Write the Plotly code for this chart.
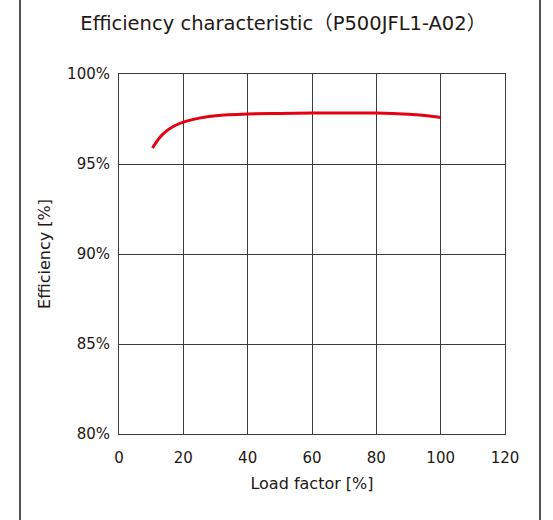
import plotly.graph_objects as go

title_text = "Efficiency characteristic（P500JFL1-A02）"
x_title = "Load factor [%]"
y_title = "Efficiency [%]"

load = [10.4, 12.8, 15, 17, 20, 25, 30, 40, 50, 60, 70, 80, 90, 95, 100]
eff = [95.89, 96.5, 96.87, 97.1, 97.33, 97.55, 97.68, 97.78, 97.81, 97.83, 97.83, 97.83, 97.76, 97.69, 97.58]

x_ticks = [0, 20, 40, 60, 80, 100, 120]
y_ticks = [80, 85, 90, 95, 100]
y_labels = ["80%", "85%", "90%", "95%", "100%"]

FONT = "DejaVu Sans, Noto Sans CJK JP"
TXT = "#231815"
GRID = "#3e3a39"

fig = go.Figure()
fig.add_trace(go.Scatter(
    x=load, y=eff, mode="lines",
    line=dict(color="#e60012", width=3, shape="spline", smoothing=1.0),
    hoverinfo="skip", showlegend=False,
))

fig.update_layout(
    width=553, height=520,
    margin=dict(l=119, r=48, t=74, b=86),
    paper_bgcolor="white", plot_bgcolor="white",
    font=dict(family=FONT, color=TXT, size=15),
    title=dict(text=title_text, x=0.4255, xanchor="center", y=0.956, yanchor="middle",
               xref="paper",
               font=dict(family=FONT, size=19.5, color=TXT)),
    xaxis=dict(range=[0, 120], tickvals=x_ticks, showgrid=True, gridcolor=GRID, gridwidth=1,
               showline=True, linecolor=GRID, linewidth=1, mirror=True, zeroline=False,
               ticks="", ticklabelstandoff=10,
               title=dict(text=x_title, font=dict(size=16, family=FONT, color=TXT), standoff=11),
               tickfont=dict(size=15, family=FONT, color=TXT)),
    yaxis=dict(range=[80, 100], tickvals=y_ticks, ticktext=y_labels, showgrid=True, gridcolor=GRID,
               gridwidth=1, showline=True, linecolor=GRID, linewidth=1, mirror=True, zeroline=False,
               ticks="", ticklabelstandoff=5,
               title=dict(text=y_title, font=dict(size=16, family=FONT, color=TXT), standoff=12),
               tickfont=dict(size=15, family=FONT, color=TXT)),
    shapes=[
        dict(type="line", xref="paper", yref="paper", x0=-0.2565, x1=-0.2565, y0=-0.5, y1=1.5,
             line=dict(color="#231815", width=1.5)),
        dict(type="line", xref="paper", yref="paper", x0=1.0907, x1=1.0907, y0=-0.5, y1=1.5,
             line=dict(color="#231815", width=1.5)),
    ],
)

fig.write_html("out.html")
